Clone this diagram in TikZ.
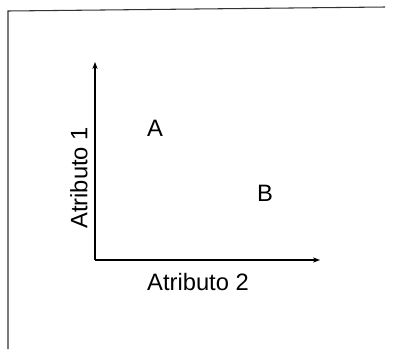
\documentclass[tikz,border=0pt]{standalone}
\usepackage{fontspec}
\setmainfont{Liberation Sans}
\usetikzlibrary{arrows.meta,positioning}

\begin{document}
\begin{tikzpicture}[x=0.02cm,y=-0.02cm,
  every node/.style={font=\fontsize{13.5}{15}\selectfont, inner sep=0pt},
  axis/.style={line width=0.8pt,-{Stealth[length=4pt,width=3pt]}},
  frame/.style={line width=0.6pt,black!80}]
\useasboundingbox (0,0) rectangle (393,349);
% frame
\draw[frame] (8,349) -- (8,11) -- (385,7);
% axes
\coordinate (orig) at (95,260);
\coordinate (ytop) at (95,62);
\coordinate (xend) at (320,260);
\draw[axis] (orig) -- (ytop);
\draw[axis] (orig) -- (xend);
\node (atr1) at (79,178) [rotate=90] {Atributo 1};
\node (atr2) at (198,282) {Atributo 2};
\node (ptA) at (155,128) {A};
\node (ptB) at (265,193) {B};
\end{tikzpicture}
\end{document}
